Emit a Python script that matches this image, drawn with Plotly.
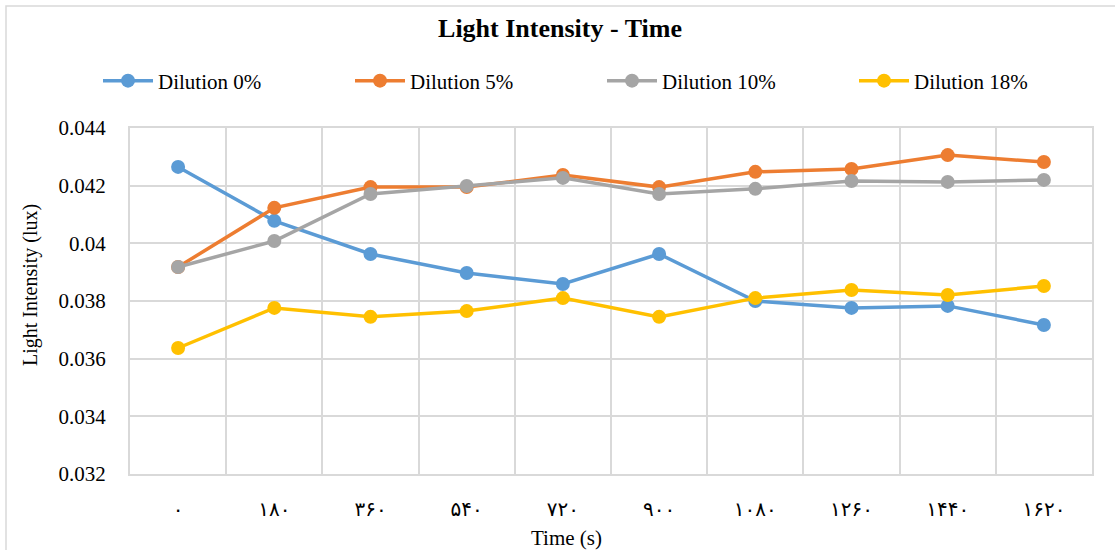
import plotly.graph_objects as go

# Sampling times (s) shown with Persian digits on the axis
time_labels = ["۰", "۱۸۰", "۳۶۰", "۵۴۰", "۷۲۰", "۹۰۰", "۱۰۸۰", "۱۲۶۰", "۱۴۴۰", "۱۶۲۰"]

dilution_0 = [0.04265, 0.04078, 0.03963, 0.03897, 0.03859, 0.03963, 0.03800, 0.03776, 0.03783, 0.03717]
dilution_5 = [0.03918, 0.04123, 0.04195, 0.04195, 0.04237, 0.04195, 0.04248, 0.04258, 0.04306, 0.04282]
dilution_10 = [0.03918, 0.04008, 0.04171, 0.04199, 0.04227, 0.04171, 0.04189, 0.04216, 0.04213, 0.04220]
dilution_18 = [0.03637, 0.03776, 0.03745, 0.03765, 0.03810, 0.03745, 0.03810, 0.03838, 0.03821, 0.03852]

series = [
    ("Dilution 0%", dilution_0, "#5B9BD5"),
    ("Dilution 5%", dilution_5, "#ED7D31"),
    ("Dilution 10%", dilution_10, "#A5A5A5"),
    ("Dilution 18%", dilution_18, "#FFC000"),
]

FONT = "Liberation Serif"
GRID = "#d9d9d9"

# Plot-area geometry in pixels (used to place the frame and axis titles)
W, H = 1115, 550
L, R, T, B = 130, 23, 128, 76
PW, PH = W - L - R, H - T - B


def px_x(p):
    return (p - L) / PW


def px_y(p):
    return (H - B - p) / PH


x = list(range(len(time_labels)))

fig = go.Figure()
for name, values, color in series:
    fig.add_trace(go.Scatter(
        x=x, y=values, name=name, mode="lines+markers",
        line=dict(color=color, width=3.5),
        marker=dict(color=color, size=14),
    ))

# Frame around the whole chart
fig.add_shape(type="rect", xref="paper", yref="paper",
              x0=px_x(6), x1=px_x(1125), y0=px_y(556), y1=px_y(6),
              line=dict(color=GRID, width=1.5), layer="below")

# Axis titles
fig.add_annotation(text="Time (s)", xref="paper", yref="paper",
                   x=px_x(566), y=px_y(538), xanchor="center", yanchor="middle",
                   showarrow=False, font=dict(family=FONT, size=21))
fig.add_annotation(text="Light Intensity (lux)", xref="paper", yref="paper",
                   x=px_x(30), y=px_y(285), xanchor="center", yanchor="middle",
                   textangle=-90, showarrow=False, font=dict(family=FONT, size=20))

fig.update_layout(
    width=W, height=H,
    margin=dict(l=L, r=R, t=T, b=B),
    paper_bgcolor="white", plot_bgcolor="white",
    font=dict(family=FONT, size=21, color="black"),
    title=dict(text="<b>Light Intensity - Time</b>", x=px_x(560), xref="paper",
               xanchor="center", y=1 - 28 / H, yanchor="middle",
               font=dict(family=FONT, size=26)),
    legend=dict(orientation="h", x=px_x(98), xanchor="left",
                y=px_y(81), yanchor="middle",
                entrywidth=187, entrywidthmode="pixels",
                font=dict(family=FONT, size=21), itemwidth=50),
    showlegend=True,
)

fig.update_xaxes(
    range=[-0.5, len(time_labels) - 0.5],
    tickmode="array", tickvals=x, ticktext=time_labels,
    showgrid=False, zeroline=False,
    showline=True, linecolor=GRID, linewidth=2, mirror=True,
    ticks="", ticklabelstandoff=16,
    tickfont=dict(family="DejaVu Serif, DejaVu Sans, Noto Sans", size=20),
    minor=dict(tickvals=[i + 0.5 for i in range(-1, len(time_labels))],
               showgrid=True, gridcolor=GRID, gridwidth=2),
)

fig.update_yaxes(
    range=[0.032, 0.044], dtick=0.002, tickformat="~g",
    showgrid=True, gridcolor=GRID, gridwidth=2, zeroline=False,
    showline=True, linecolor=GRID, linewidth=2, mirror=True,
    ticks="", ticklabelstandoff=18,
    tickfont=dict(family=FONT, size=21),
)

fig.write_html("out.html")
